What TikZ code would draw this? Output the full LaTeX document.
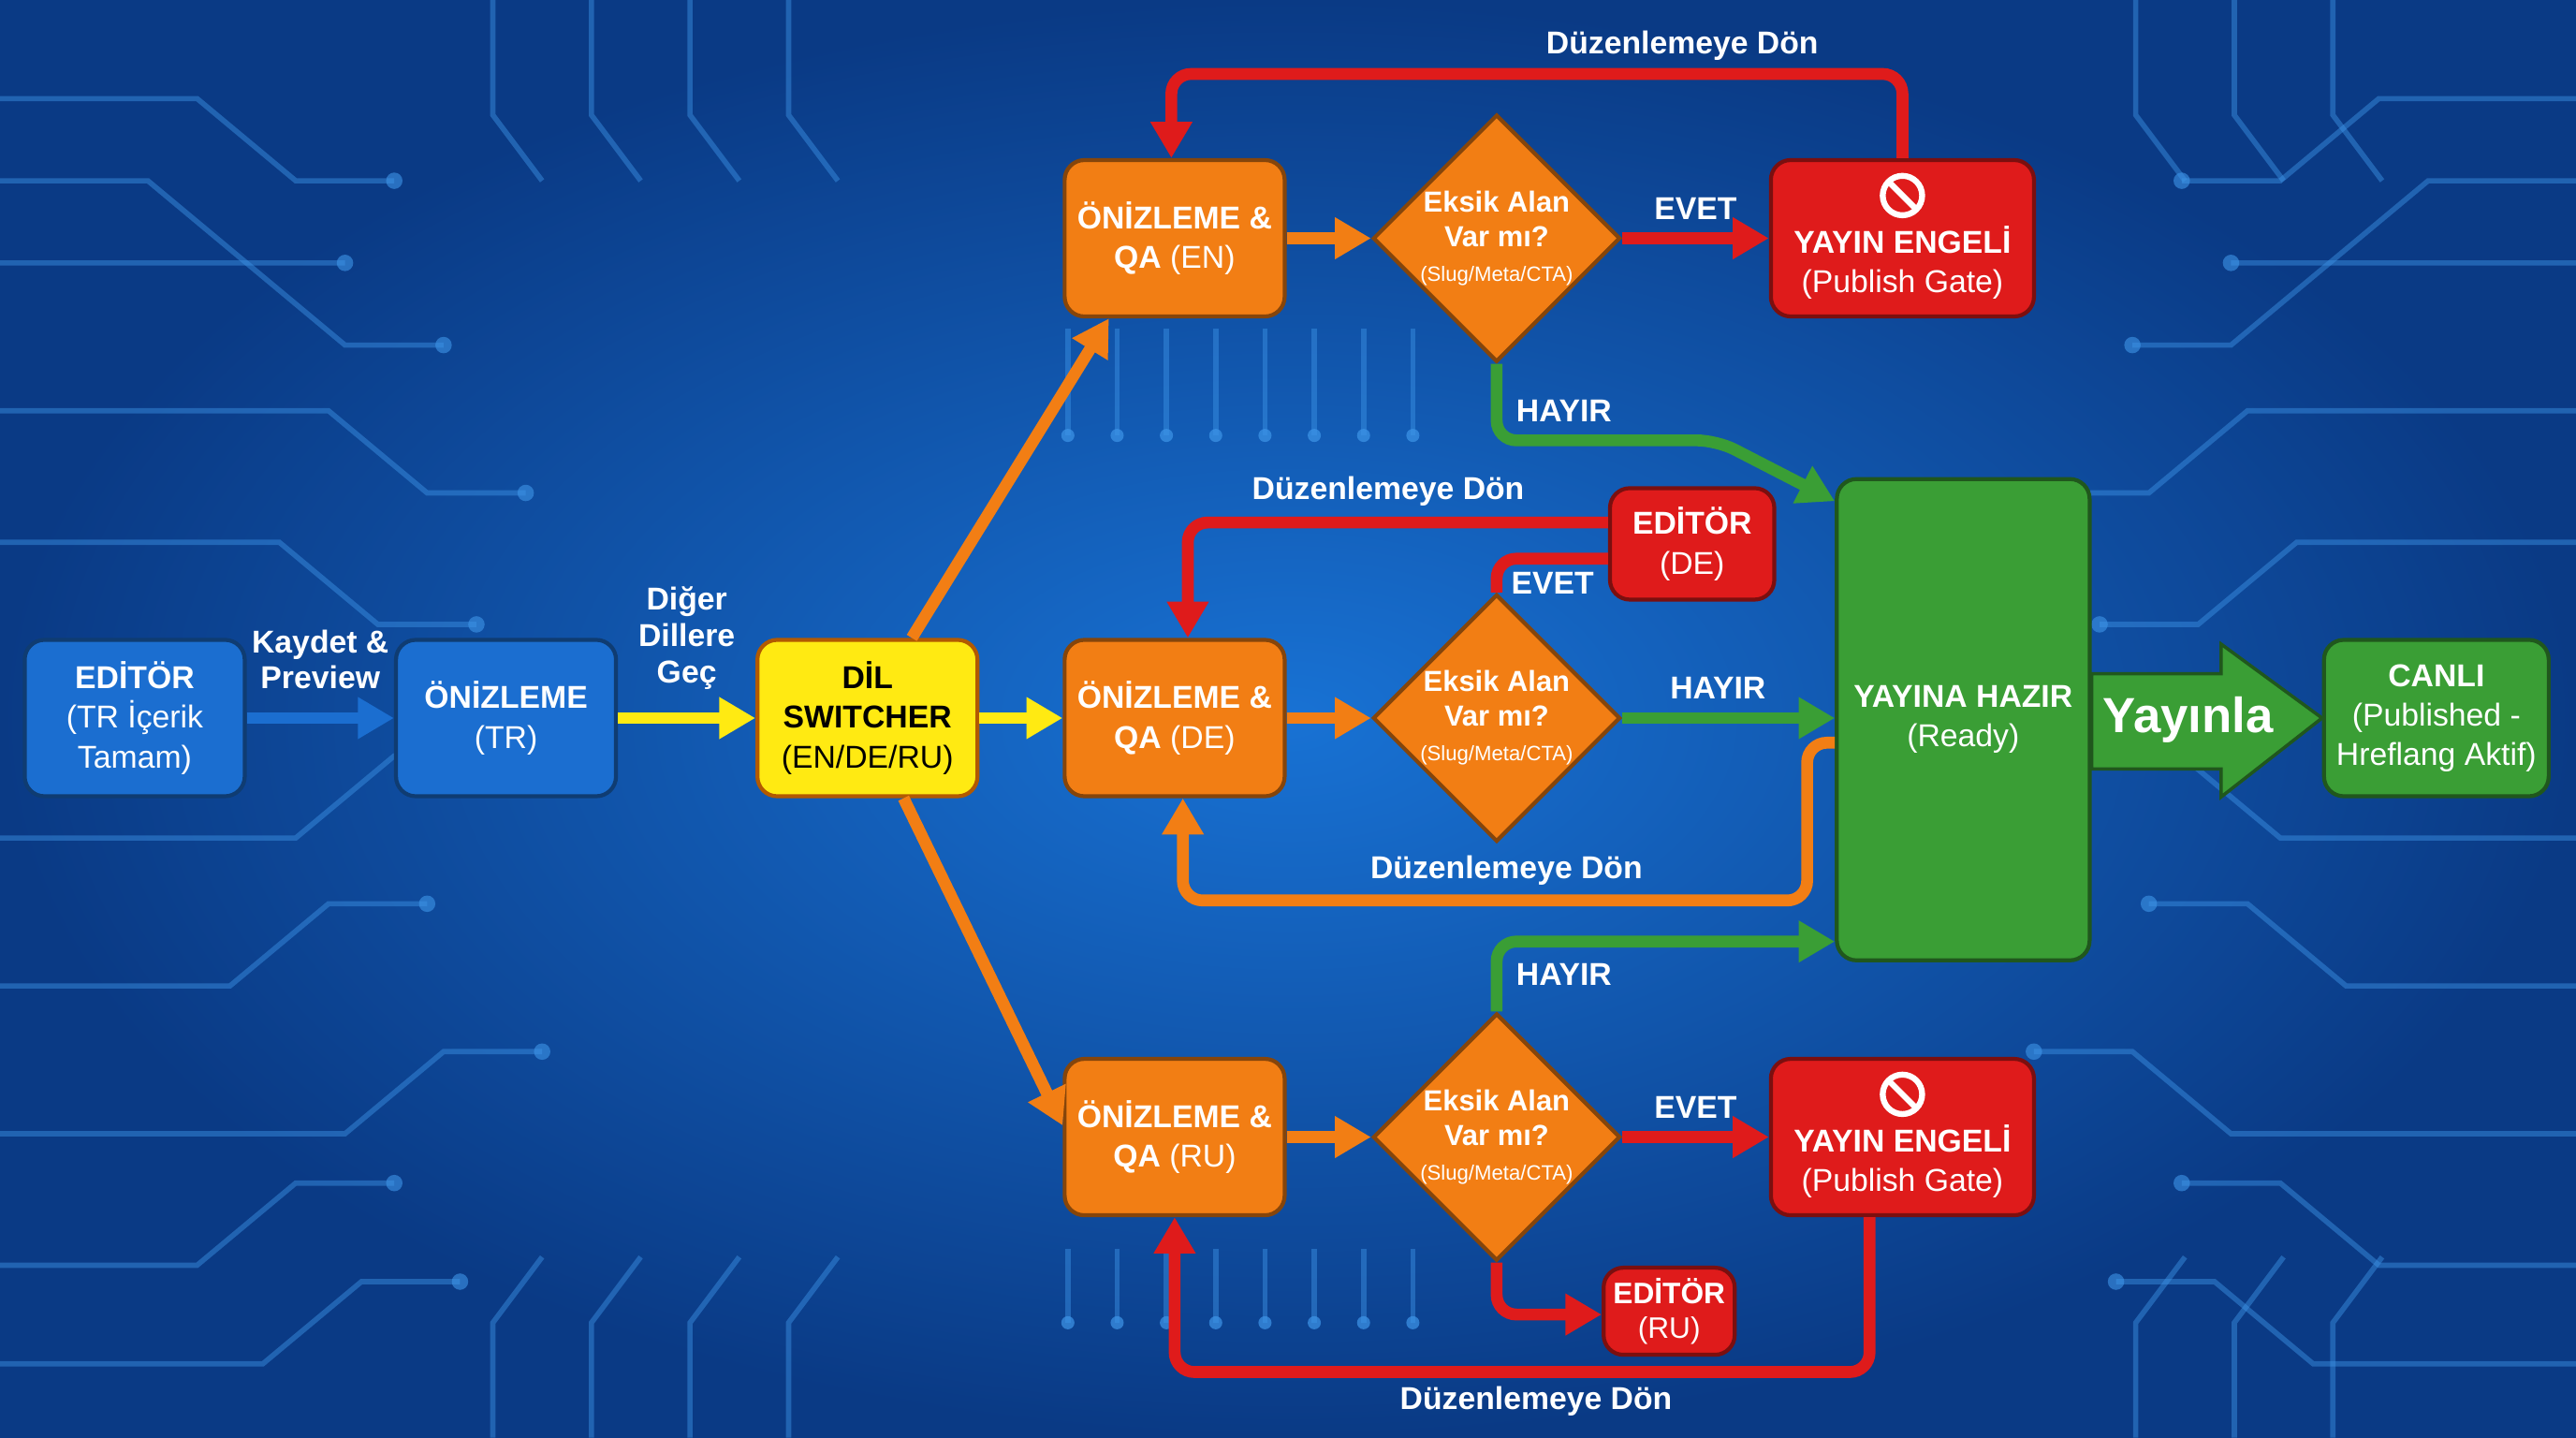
\documentclass[tikz,border=0pt]{standalone}
\usepackage{fontspec}
\setmainfont{Liberation Sans}
\usetikzlibrary{shapes.geometric,arrows.meta}
\definecolor{bgin}{HTML}{1872D4}
\definecolor{bgout}{HTML}{0A3A85}
\definecolor{trace}{HTML}{3E95E8}
\definecolor{cblue}{HTML}{1B6ED0}
\definecolor{cyel}{HTML}{FFEA12}
\definecolor{corg}{HTML}{F27E14}
\definecolor{cred}{HTML}{DF1B1B}
\definecolor{cgrn}{HTML}{3A9E35}
\begin{document}
\begin{tikzpicture}[x=0.01755cm,y=-0.01755cm,
 box/.style={rectangle, rounded corners=6pt, draw=#1!55!black, line width=1.2pt, fill=#1, text=white, align=center, font=\fontsize{9.6}{12}\selectfont, minimum width=2.35cm, minimum height=1.67cm, inner sep=2pt},
 dia/.style={diamond, draw=corg!55!black, line width=1.2pt, fill=corg, text=white, align=center, minimum width=2.55cm, minimum height=2.55cm, inner sep=0pt, font=\fontsize{8.8}{10.5}\selectfont},
 ln/.style={line width=3.6pt, draw=#1, -{Triangle[length=11pt,width=12pt]}, rounded corners=6pt},
 lbl/.style={text=white, font=\bfseries\fontsize{9.6}{11}\selectfont, align=center, inner sep=1pt},
 gtxt/.style={text=white, align=center, font=\fontsize{9.6}{12}\selectfont, inner sep=0pt},
 tr/.style={trace, opacity=0.45, line width=1.6pt},
]
\shade[inner color=bgin, outer color=bgout] (0,0) rectangle (1568,875);
\useasboundingbox (0,0) rectangle (1568,875);
% circuit traces
\foreach \y/\x in {60/120,110/90,160/150,250/200,330/170,510/180,600/140,690/210,770/120,830/160}{
 \draw[tr] (0,\y) -- (\x,\y) -- ++(60,{(\y<437)?50:-50}) -- ++(60,0);
 \fill[trace,opacity=0.6] (\x+120,{\y+((\y<437)?50:-50)}) circle (5);
 \draw[tr] (1568,\y) -- (1568-\x,\y) -- ++(-60,{(\y<437)?50:-50}) -- ++(-60,0);
 \fill[trace,opacity=0.6] (1448-\x,{\y+((\y<437)?50:-50)}) circle (5);
}
\foreach \x in {300,360,420,480,1300,1360,1420}{
 \draw[tr] (\x,0) -- (\x,70) -- ++(30,40);
 \draw[tr] (\x,875) -- (\x,805) -- ++(30,-40);
}
\foreach \x in {650,680,710,740,770,800,830,860}{
 \draw[tr] (\x,200) -- (\x,265); \fill[trace,opacity=0.7] (\x,265) circle (4);
 \draw[tr] (\x,760) -- (\x,805); \fill[trace,opacity=0.7] (\x,805) circle (4);
}
% nodes
\node[box=cblue] (edTR) at (82,437) {\textbf{EDİTÖR}\\(TR İçerik\\Tamam)};
\node[box=cblue] (onTR) at (308,437) {\textbf{ÖNİZLEME}\\(TR)};
\node[box=cyel,text=black,draw=orange!70!black] (dil) at (528,437) {\textbf{DİL}\\\textbf{SWITCHER}\\(EN/DE/RU)};
\node[box=corg] (qaEN) at (715,145) {\textbf{ÖNİZLEME \&}\\\textbf{QA} (EN)};
\node[box=corg] (qaDE) at (715,437) {\textbf{ÖNİZLEME \&}\\\textbf{QA} (DE)};
\node[box=corg] (qaRU) at (715,692) {\textbf{ÖNİZLEME \&}\\\textbf{QA} (RU)};
\foreach \n/\y in {dEN/145,dDE/437,dRU/692}
 \node[dia] (\n) at (911,\y) {\textbf{Eksik Alan}\\\textbf{Var mı?}\\{\fontsize{6.3}{8}\selectfont(Slug/Meta/CTA)}};
\node[box=cred,minimum width=2.81cm] (gEN) at (1158,145) {};
\node[gtxt] (gENt) at (1158,160) {\textbf{YAYIN ENGELİ}\\(Publish Gate)};
\node[box=cred,minimum width=2.81cm] (gRU) at (1158,692) {};
\node[gtxt] (gRUt) at (1158,707) {\textbf{YAYIN ENGELİ}\\(Publish Gate)};
\foreach \y in {119,666}{
 \draw[white,line width=1.8pt] (1158,\y) circle (12);
 \draw[white,line width=1.8pt] (1150,\y-8) -- (1166,\y+8);
}
\node[box=cred,minimum width=1.755cm,minimum height=1.19cm] (edDE) at (1030,331) {\textbf{EDİTÖR}\\(DE)};
\node[box=cred,minimum width=1.4cm,minimum height=0.93cm,font=\fontsize{9}{10.5}\selectfont] (edRU) at (1016,798) {\textbf{EDİTÖR}\\(RU)};
\node[box=cgrn,minimum width=2.7cm,minimum height=5.14cm] (ready) at (1195,438) {\textbf{YAYINA HAZIR}\\(Ready)};
\node[box=cgrn,minimum width=2.4cm] (canli) at (1483,437) {\textbf{CANLI}\\(Published -\\Hreflang Aktif)};
% main flow
\draw[ln=cblue] (edTR) -- (onTR) node[lbl,midway,above=6pt] {Kaydet \&\\Preview};
\draw[ln=cyel] (onTR) -- (dil) node[lbl,midway,above=6pt] {Diğer\\Dillere\\Geç};
\draw[ln=cyel] (dil) -- (qaDE);
\draw[ln=corg] (dil.north -| 555,0) -- (qaEN.south -| 675,0);
\draw[ln=corg] (dil.south -| 550,0) -- (qaRU.west |- 0,685);
\draw[ln=corg] (qaEN) -- (dEN);
\draw[ln=corg] (qaDE) -- (dDE);
\draw[ln=corg] (qaRU) -- (dRU);
% EN
\draw[ln=cred] (dEN) -- (gEN) node[lbl,midway,above=3pt] {EVET};
\draw[ln=cred] (gEN.north) -- (1158,45) -- (713,45) -- (qaEN.north -| 713,0);
\node[lbl] (t1) at (1024,28) {Düzenlemeye Dön};
\draw[ln=cgrn] (dEN.south) -- (911,268) -- (1045,268) -- (ready.west |- 0,305);
\node[lbl] (t2) at (952,250) {HAYIR};
% DE
\draw[ln=cgrn] (dDE) -- (ready.west |- dDE) node[lbl,pos=0.45,above=3pt] {HAYIR};
\draw[ln=cred,-] (dDE.north) -- (911,340) -- (edDE.west |- 0,340);
\node[lbl] (t3) at (945,355) {EVET};
\draw[ln=cred] (edDE.west |- 0,318) -- (723,318) -- (qaDE.north -| 723,0);
\node[lbl] (t4) at (845,299) {Düzenlemeye Dön};
\draw[ln=corg] (ready.west |- 0,452) -- (1100,452) -- (1100,548) -- (720,548) -- (qaDE.south -| 720,0);
\node[lbl] (t5) at (917,530) {Düzenlemeye Dön};
% RU
\draw[ln=cgrn] (dRU.north) -- (911,573) -- (ready.west |- 0,573);
\node[lbl] (t6) at (952,593) {HAYIR};
\draw[ln=cred] (dRU) -- (gRU) node[lbl,midway,above=3pt] {EVET};
\draw[ln=cred] (dRU.south) -- (911,800) -- (edRU.west |- 0,800);
\draw[ln=cred] (gRU.south -| 1138,0) -- (1138,835) -- (715,835) -- (qaRU.south);
\node[lbl] (t7) at (935,853) {Düzenlemeye Dön};
% publish arrow
\fill[cgrn,draw=cgrn!55!black,line width=1pt] (ready.east |- 0,410) -- (1352,410) -- (1352,392) -- (canli.west) -- (1352,485) -- (1352,468) -- (ready.east |- 0,468) -- cycle;
\node[text=white,font=\bfseries\fontsize{15}{18}\selectfont] (pub) at (1332,438) {Yayınla};
\end{tikzpicture}
\end{document}
